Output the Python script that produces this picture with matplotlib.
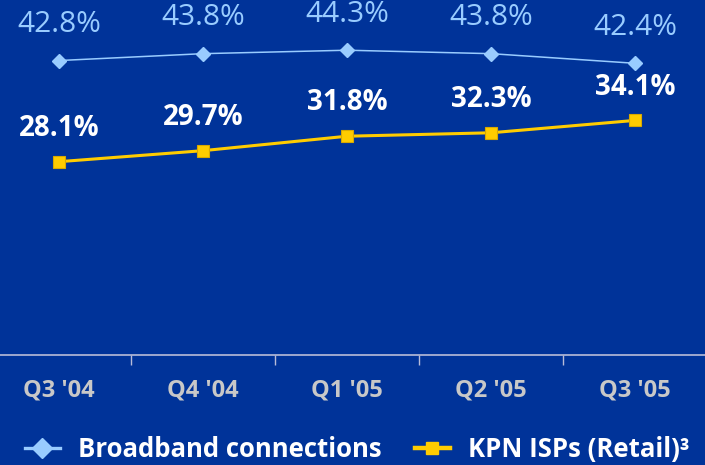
import matplotlib
matplotlib.use("Agg")
import matplotlib.pyplot as plt
from matplotlib.lines import Line2D

categories = ["Q3 '04", "Q4 '04", "Q1 '05", "Q2 '05", "Q3 '05"]
broadband = [42.8, 43.8, 44.3, 43.8, 42.4]
kpn_isps = [28.1, 29.7, 31.8, 32.3, 34.1]
series_names = ["Broadband connections", "KPN ISPs (Retail)\u00b3"]

BG = "#003399"
BLUE = "#99ccff"
YELLOW = "#ffcc00"
GRAY = "#c8c8c8"
FONT = ["Open Sans", "DejaVu Sans"]

plt.rcParams["font.family"] = FONT

fig = plt.figure(figsize=(7.05, 4.65), dpi=100, facecolor=BG)
ax = fig.add_axes([-13 / 705, 110 / 465, 720 / 705, 355 / 465])
ax.set_facecolor(BG)

x = list(range(len(categories)))
ax.plot(x, broadband, color=BLUE, lw=1.1, marker="D", ms=7,
        markerfacecolor=BLUE, markeredgecolor=BLUE, zorder=3)
ax.plot(x, kpn_isps, color=YELLOW, lw=2.2, marker="s", ms=9,
        markerfacecolor=YELLOW, markeredgecolor="#d9a900", markeredgewidth=0.8, zorder=3)

for xi, v in zip(x, broadband):
    ax.annotate(f"{v:.1f}%", (xi, v), xytext=(0, 26), textcoords="offset points",
                ha="center", va="center", color=BLUE, fontsize=21.5)
for xi, v in zip(x, kpn_isps):
    ax.annotate(f"{v:.1f}%", (xi, v), xytext=(0, 24), textcoords="offset points",
                ha="center", va="center", color="white", fontsize=20, fontweight="bold")

ax.set_xlim(-0.5, len(categories) - 0.5)
ax.set_ylim(0, 51.6)
ax.set_yticks([])
ax.set_xticks(x)
ax.set_xticklabels(categories, color=GRAY, fontsize=17, fontweight="bold")
ax.tick_params(axis="x", which="major", length=0, pad=17)
ax.set_xticks([i + 0.5 for i in x[:-1]], minor=True)
ax.tick_params(axis="x", which="minor", length=7, width=1, color="#b8bcd8", direction="out")
for s in ["top", "left", "right"]:
    ax.spines[s].set_visible(False)
ax.spines["bottom"].set_color("#b8bcd8")
ax.spines["bottom"].set_linewidth(1.2)

handles = [
    Line2D([], [], color=BLUE, lw=2.4, marker="D", ms=10, markerfacecolor=BLUE, markeredgecolor=BLUE),
    Line2D([], [], color=YELLOW, lw=3.2, marker="s", ms=9, markerfacecolor=YELLOW, markeredgecolor=YELLOW),
]
leg = fig.legend(handles, series_names, loc="center left", bbox_to_anchor=(25 / 705, 1 - 449 / 465),
                 ncol=2, frameon=False, handlelength=1.36, handletextpad=0.7, columnspacing=1.3,
                 prop={"family": FONT, "weight": "bold", "size": 18.5}, borderaxespad=0, borderpad=0)
for t in leg.get_texts():
    t.set_color("white")

fig.savefig("out.png", dpi=100, facecolor=BG)
